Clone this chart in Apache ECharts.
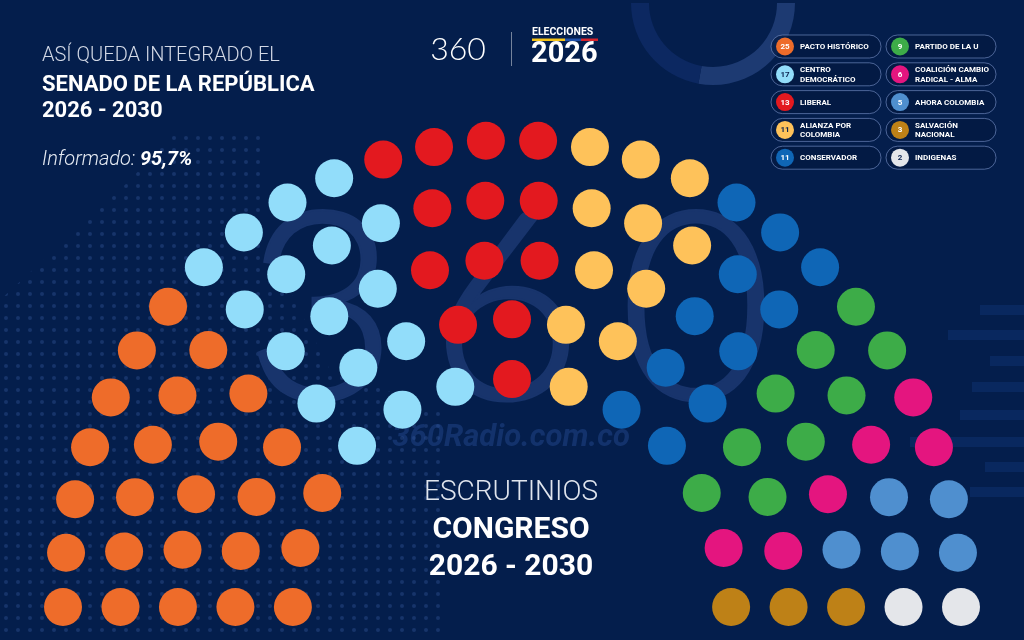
<!DOCTYPE html>
<html>
<head>
<meta charset="utf-8">
<script src="https://cdn.jsdelivr.net/npm/echarts@6/dist/echarts.min.js"></script>
<style>
  html, body { margin: 0; padding: 0; background: #041e4c; }
  #chart { width: 1024px; height: 640px; }
</style>
</head>
<body>
<div id="chart"></div>
<script>
// partidos en el orden del hemiciclo (izquierda -> derecha)
const partidos = ['PACTO HISTÓRICO', 'CENTRO\nDEMOCRÁTICO', 'LIBERAL', 'ALIANZA POR\nCOLOMBIA', 'CONSERVADOR',
  'PARTIDO DE LA U', 'COALICIÓN CAMBIO\nRADICAL - ALMA', 'AHORA COLOMBIA', 'SALVACIÓN\nNACIONAL', 'INDIGENAS'];
const curules = [25, 17, 13, 11, 11, 9, 6, 5, 3, 2];
// curules de cada partido por fila (de la fila interior a la exterior)
const porFila = [
  [3, 4, 5, 6, 7],
  [3, 3, 3, 4, 4],
  [1, 2, 3, 3, 4],
  [1, 2, 2, 3, 3],
  [2, 2, 2, 2, 3],
  [1, 2, 2, 2, 2],
  [1, 1, 1, 1, 2],
  [0, 0, 1, 2, 2],
  [1, 1, 1, 0, 0],
  [0, 0, 0, 1, 1]
];
const colores = ['#EE6C2A', '#92DDFA', '#E3191F', '#FEC25A', '#0F66B6',
  '#3DAC48', '#E4157F', '#4F8FCF', '#BE8117', '#E4E6EA'];
const textoOscuro = [1, 3, 9]; // círculos claros -> número oscuro

// posiciones de las curules: cada fila es un semicírculo
const filas = porFila[0].map((_, j) => porFila.reduce((s, f) => s + f[j], 0));
const radioInt = 0.488;
const radios = filas.map((_, j) => radioInt + (1 - radioInt) * j / (filas.length - 1));
const puntos = partidos.map(() => []);
filas.forEach((n, j) => {
  let k = 0;
  porFila.forEach((f, p) => {
    for (let i = 0; i < f[j]; i++, k++) {
      const a = Math.PI * (1 - k / (n - 1));
      puntos[p].push([radios[j] * Math.cos(a), radios[j] * Math.sin(a)]);
    }
  });
});

// patrón de puntitos del fondo
const cv = document.createElement('canvas');
cv.width = 12; cv.height = 12;
const cx = cv.getContext('2d');
cx.fillStyle = 'rgba(55,90,155,0.38)';
cx.beginPath(); cx.arc(6, 6, 2, 0, Math.PI * 2); cx.fill();

const fondo = [
  {type: 'polygon', z: 0, shape: {points: [[0, 300], [128, 182], [175, 132], [265, 132], [262, 235], [330, 370], [440, 410], [440, 640], [0, 640]]},
    style: {fill: {image: cv, repeat: 'repeat'}}},
  {type: 'sector', z: 0, shape: {cx: 713, cy: 3, r0: 64, r: 82, startAngle: 0, endAngle: 1.75}, style: {fill: '#1d3a72'}},
  {type: 'sector', z: 0, shape: {cx: 713, cy: 3, r0: 64, r: 82, startAngle: 1.75, endAngle: Math.PI}, style: {fill: '#0c2861'}}
];
[[310, 980], [335, 948], [361, 990], [387, 972], [415, 960], [442, 910], [467, 985], [492, 970]].forEach(d => {
  fondo.push({type: 'rect', z: 0, shape: {x: d[1], y: d[0] - 5, width: 1024 - d[1], height: 10}, style: {fill: '#09285f'}});
});
// marca de agua "360"
['3', '6', '0'].forEach((c, i) => {
  fondo.push({type: 'text', z: 1, x: [321, 506, 696][i], y: 314,
    style: {text: c, font: '300 262px Lato', fill: '#18346c', stroke: '#18346c', lineWidth: 4,
      textAlign: 'center', textVerticalAlign: 'middle', align: 'center', verticalAlign: 'middle'}});
});
fondo.push({type: 'text', z: 1, x: 511, y: 438,
  style: {text: '360Radio.com.co', font: 'italic bold 31px Roboto', fill: 'rgba(45,85,160,0.38)', textAlign: 'center', textVerticalAlign: 'middle', align: 'center', verticalAlign: 'middle'}});

function txt(t, x, y, font, extra, z) {
  return {type: 'text', z: z || 20, x: x, y: y,
    style: Object.assign({text: t, font: font, fill: '#ffffff', textVerticalAlign: 'middle', verticalAlign: 'middle'}, extra || {})};
}
const textos = [
  txt('ASÍ QUEDA INTEGRADO EL', 42, 56, '300 20px Roboto', {fill: '#d3d9e6'}),
  txt('SENADO DE LA REPÚBLICA', 42, 85, 'bold 22px Roboto'),
  txt('2026 - 2030', 42, 111, 'bold 22px Roboto'),
  {type: 'text', z: 20, x: 42, y: 160, style: {text: '{a|Informado: }{b|95,7%}', textVerticalAlign: 'middle', verticalAlign: 'middle',
    rich: {a: {font: 'italic 300 20px Roboto', fill: '#e6ebf3'}, b: {font: 'italic bold 20px Roboto', fill: '#ffffff'}}}},
  txt('ESCRUTINIOS', 511, 493, '300 28px Roboto', {textAlign: 'center', align: 'center', fill: '#e0e5ee'}),
  txt('CONGRESO', 511, 530, 'bold 30px Roboto', {textAlign: 'center', align: 'center'}),
  txt('2026 - 2030', 511, 567, 'bold 30px Roboto', {textAlign: 'center', align: 'center'}),
  txt('360', 458, 50, '300 32px Lato', {textAlign: 'center', align: 'center'}),
  {type: 'rect', z: 20, shape: {x: 511, y: 32, width: 1, height: 34}, style: {fill: 'rgba(255,255,255,0.45)'}},
  txt('ELECCIONES', 532, 32, 'bold 10.5px Roboto'),
  {type: 'rect', z: 20, shape: {x: 532, y: 38.5, width: 33, height: 2.5}, style: {fill: '#f6c417'}},
  {type: 'rect', z: 20, shape: {x: 565, y: 38.5, width: 16, height: 2.5}, style: {fill: '#1f4fa8'}},
  {type: 'rect', z: 20, shape: {x: 581, y: 38.5, width: 17, height: 2.5}, style: {fill: '#d8232a'}},
  txt('2026', 531, 55, 'bold 29px Roboto')
];

// leyenda
const leyenda = [];
partidos.forEach((nombre, i) => {
  const x = 771 + Math.floor(i / 5) * 115, y = 35 + (i % 5) * 27.8;
  leyenda.push({type: 'rect', z: 20, shape: {x: x, y: y, width: 110, height: 23, r: 11.5},
    style: {fill: 'rgba(3,24,66,0.7)', stroke: 'rgba(125,150,205,0.6)', lineWidth: 1}});
  leyenda.push({type: 'circle', z: 21, shape: {cx: x + 14, cy: y + 11.5, r: 9}, style: {fill: colores[i]}});
  leyenda.push(txt(String(curules[i]), x + 14, y + 12, 'bold 8px Roboto',
    {textAlign: 'center', align: 'center', fill: textoOscuro.includes(i) ? '#0b2350' : '#ffffff'}, 22));
  leyenda.push(txt(nombre, x + 29, y + 12, 'bold 8px Roboto', {lineHeight: 9.5}, 22));
});

const chart = echarts.init(document.getElementById('chart'));
chart.setOption({
  backgroundColor: '#041e4c',
  animation: false,
  grid: {left: 63, right: 63, top: 140, bottom: 33},
  xAxis: {type: 'value', min: -1, max: 1, show: false},
  yAxis: {type: 'value', min: 0, max: 1, show: false},
  series: partidos.map((nombre, p) => ({
    name: nombre,
    type: 'scatter',
    z: 5,
    clip: false,
    symbol: 'circle',
    symbolSize: 38,
    itemStyle: {color: colores[p], opacity: 1},
    data: puntos[p]
  })),
  graphic: {elements: fondo.concat(textos, leyenda)}
});
</script>
</body>
</html>
